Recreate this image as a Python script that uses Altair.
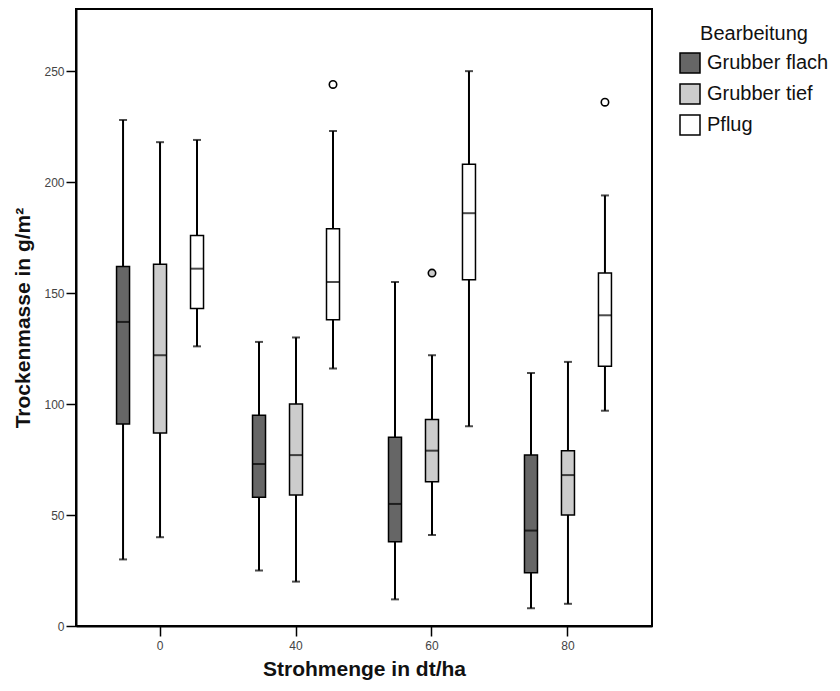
import altair as alt
import pandas as pd

# ---- data ----
strohmenge = ["0", "40", "60", "80"]
bearbeitung = ["Grubber flach", "Grubber tief", "Pflug"]

# order: for each Strohmenge, for each Bearbeitung
whisker_low = [30, 40, 126, 25, 20, 116, 12, 41, 90, 8, 10, 97]
q1 = [91, 87, 143, 58, 59, 138, 38, 65, 156, 24, 50, 117]
median = [137, 122, 161, 73, 77, 155, 55, 79, 186, 43, 68, 140]
q3 = [162, 163, 176, 95, 100, 179, 85, 93, 208, 77, 79, 159]
whisker_high = [228, 218, 219, 128, 130, 223, 155, 122, 250, 114, 119, 194]

outlier_stroh = ["40", "60", "80"]
outlier_bearb = ["Pflug", "Grubber tief", "Pflug"]
outlier_value = [244, 159, 236]

fill_colors = ["#666666", "#cccccc", "#ffffff"]
y_ticks = [0, 50, 100, 150, 200, 250]

rows = []
i = 0
for s in strohmenge:
    for b in bearbeitung:
        rows.append(dict(Stroh=s, Bearbeitung=b, lo=whisker_low[i], q1=q1[i],
                         med=median[i], q3=q3[i], hi=whisker_high[i]))
        i += 1
df = pd.DataFrame(rows)
df_out = pd.DataFrame(dict(Stroh=outlier_stroh, Bearbeitung=outlier_bearb, v=outlier_value))

FONT = "Liberation Sans"

x = alt.X("Stroh:N", sort=strohmenge,
          scale=alt.Scale(paddingInner=0, paddingOuter=0.118),
          axis=alt.Axis(title="Strohmenge in dt/ha", labelAngle=0, tickSize=10,
                        labelPadding=4, titlePadding=7, grid=False))
xo = alt.XOffset("Bearbeitung:N", sort=bearbeitung,
                 scale=alt.Scale(paddingInner=0, paddingOuter=0.338))
yscale = alt.Scale(domain=[0, 278], nice=False, zero=True)
fill_scale = alt.Scale(domain=bearbeitung, range=fill_colors)
legend = alt.Legend(title="Bearbeitung", orient="none", legendX=603, legendY=15,
                    symbolType="square", symbolSize=400, symbolStrokeColor="black",
                    symbolStrokeWidth=1.5, labelFontSize=20, titleFontSize=20,
                    titleFontWeight="normal", titleAnchor="middle", titlePadding=8,
                    rowPadding=5, labelOffset=6, padding=0, labelFont=FONT,
                    titleFont=FONT, labelColor="#111", titleColor="#111")

base = alt.Chart(df)

whisk = base.mark_rule(color="black", strokeWidth=2).encode(
    x=x, xOffset=xo,
    y=alt.Y("lo:Q", scale=yscale,
            axis=alt.Axis(title="Trockenmasse in g/m²", values=y_ticks, tickSize=10,
                          labelPadding=2, titlePadding=10, grid=False)),
    y2="hi:Q",
)
box = base.mark_bar(size=13, stroke="black", strokeWidth=1.5, opacity=1).encode(
    x=x, xOffset=xo,
    y=alt.Y("q1:Q", scale=yscale),
    y2="q3:Q",
    fill=alt.Fill("Bearbeitung:N", scale=fill_scale, sort=bearbeitung, legend=legend),
)
med = base.mark_tick(color="black", size=13, thickness=2, orient="horizontal").encode(
    x=x, xOffset=xo, y=alt.Y("med:Q", scale=yscale))
cap_hi = base.mark_tick(color="black", size=8, thickness=2, orient="horizontal").encode(
    x=x, xOffset=xo, y=alt.Y("hi:Q", scale=yscale))
cap_lo = base.mark_tick(color="black", size=8, thickness=2, orient="horizontal").encode(
    x=x, xOffset=xo, y=alt.Y("lo:Q", scale=yscale))
pts = alt.Chart(df_out).mark_point(shape="circle", size=55, filled=True, stroke="black",
                                   strokeWidth=1.6, opacity=1).encode(
    x=x, xOffset=xo, y=alt.Y("v:Q", scale=yscale),
    fill=alt.Fill("Bearbeitung:N", scale=fill_scale, sort=bearbeitung, legend=legend),
)

chart = alt.layer(whisk, box, med, cap_hi, cap_lo, pts).properties(
    width=576, height=617,
    autosize=alt.AutoSizeParams(type="none"),
    padding={"left": 68, "top": 1, "right": 180, "bottom": 57},
).configure_view(stroke="black", strokeWidth=2).configure_axis(
    domainColor="black", domainWidth=2, tickColor="black", tickWidth=1.5,
    labelFont=FONT, labelFontSize=12, labelColor="#444",
    titleFont=FONT, titleFontSize=21, titleFontWeight="bold", titleColor="#111",
)

chart.save("out.html", embed_options={"renderer": "svg", "actions": False})
